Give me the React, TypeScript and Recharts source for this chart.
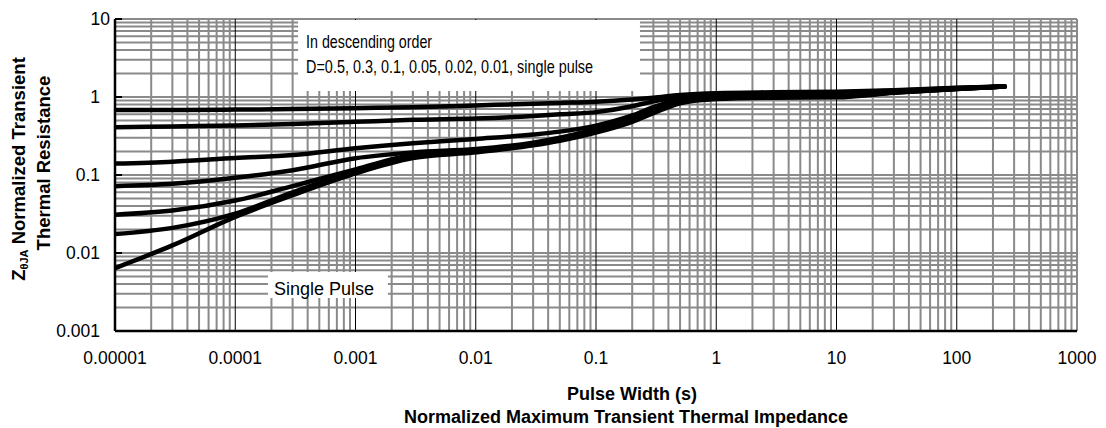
import { CartesianGrid, Label, Line, LineChart, ReferenceArea, XAxis, YAxis } from 'recharts'

const PULSE_WIDTH = [1e-5, 3e-5, 1e-4, 3e-4, 1e-3, 3e-3, 1e-2, 3e-2, 0.05, 0.1, 0.2, 0.3, 0.5, 1, 3, 10, 30, 100, 250]

// normalized Z for each duty cycle, same order as PULSE_WIDTH
const Z_D050 = [0.68, 0.68, 0.69, 0.70, 0.72, 0.74, 0.78, 0.82, 0.84, 0.87, 0.93, 0.98, 1.06, 1.12, 1.15, 1.17, 1.22, 1.31, 1.36]
const Z_D030 = [0.41, 0.42, 0.43, 0.45, 0.48, 0.51, 0.53, 0.57, 0.60, 0.64, 0.76, 0.88, 1.01, 1.09, 1.12, 1.14, 1.20, 1.30, 1.36]
const Z_D010 = [0.14, 0.148, 0.165, 0.18, 0.22, 0.255, 0.29, 0.33, 0.36, 0.43, 0.58, 0.74, 0.92, 1.03, 1.07, 1.09, 1.17, 1.29, 1.36]
const Z_D005 = [0.072, 0.077, 0.092, 0.115, 0.164, 0.195, 0.215, 0.26, 0.30, 0.39, 0.53, 0.68, 0.87, 1.0, 1.04, 1.06, 1.16, 1.28, 1.36]
const Z_D002 = [0.031, 0.035, 0.047, 0.072, 0.118, 0.18, 0.205, 0.25, 0.29, 0.37, 0.51, 0.66, 0.86, 0.98, 1.02, 1.03, 1.15, 1.28, 1.36]
const Z_D001 = [0.0175, 0.021, 0.032, 0.06, 0.11, 0.172, 0.2, 0.245, 0.28, 0.36, 0.49, 0.64, 0.85, 0.96, 1.0, 1.01, 1.14, 1.27, 1.36]
const Z_SINGLE = [0.0064, 0.0125, 0.029, 0.055, 0.105, 0.165, 0.195, 0.24, 0.275, 0.35, 0.48, 0.62, 0.83, 0.94, 0.98, 0.99, 1.13, 1.27, 1.36]

const SERIES = [
  { name: 'D=0.5', z: Z_D050 },
  { name: 'D=0.3', z: Z_D030 },
  { name: 'D=0.1', z: Z_D010 },
  { name: 'D=0.05', z: Z_D005 },
  { name: 'D=0.02', z: Z_D002 },
  { name: 'D=0.01', z: Z_D001 },
  { name: 'single pulse', z: Z_SINGLE },
]

const X_TICKS = [1e-5, 1e-4, 1e-3, 1e-2, 0.1, 1, 10, 100, 1000]
const X_TICK_LABELS = ['0.00001', '0.0001', '0.001', '0.01', '0.1', '1', '10', '100', '1000']
const Y_TICKS = [0.001, 0.01, 0.1, 1, 10]
const Y_TICK_LABELS = ['0.001', '0.01', '0.1', '1', '10']

const X_DECADES = [1e-5, 1e-4, 1e-3, 1e-2, 0.1, 1, 10, 100]
const Y_DECADES = [0.001, 0.01, 0.1, 1]
const MINOR = [2, 3, 4, 5, 6, 7, 8, 9]

const NOTE_LINE_1 = 'In descending order'
const NOTE_LINE_2 = 'D=0.5, 0.3, 0.1, 0.05, 0.02, 0.01, single pulse'
const SINGLE_NOTE = 'Single Pulse'

const FONT = 'Liberation Sans, Arial, sans-serif'
const NARROW = 'Liberation Sans Narrow, Arial Narrow, Liberation Sans, sans-serif'
const GRID_GRAY = '#8a8a8a'

const verticalMinor = X_DECADES.flatMap(d => MINOR.map(m => d * m)).concat([1000])
const verticalMajor = X_DECADES.slice(1)
const horizontalLines = Y_DECADES.flatMap(d => [1, ...MINOR].map(m => d * m))
  .filter(v => v > 0.001)
  .concat([10])

function YTick(props: any) {
  const { x, y, payload } = props
  const idx = Y_TICKS.indexOf(payload.value)
  // the top label sits a little further right in the original
  const dx = payload.value === 10 ? 10 : 0
  return (
    <text x={x + dx} y={y} dy="0.355em" textAnchor="end" fontSize={17.5} fontFamily={FONT} fill="#000">
      {Y_TICK_LABELS[idx] ?? payload.value}
    </text>
  )
}

function YTitle(props: any) {
  const vb = props.viewBox ?? { x: 0, y: 19, width: 115, height: 312 }
  const x1 = vb.x + 25
  const x2 = vb.x + 50
  const cy1 = vb.y + 150
  const cy2 = vb.y + 144
  return (
    <g fontFamily={FONT} fontWeight="bold" fontSize={18.5} fill="#000">
      <text x={x1} y={cy1} textAnchor="middle" transform={`rotate(-90 ${x1} ${cy1})`}>
        Z<tspan fontSize={11} dy={3}>θJA</tspan>
        <tspan dy={-3}> Normalized Transient</tspan>
      </text>
      <text x={x2} y={cy2} textAnchor="middle" transform={`rotate(-90 ${x2} ${cy2})`}>
        Thermal Resistance
      </text>
    </g>
  )
}

function XTitle(props: any) {
  const vb = props.viewBox ?? { x: 115, y: 331, width: 962, height: 97 }
  const cx = vb.x + vb.width / 2
  return (
    <g fontFamily={FONT} fontWeight="bold" fontSize={18} fill="#000">
      <text x={cx + 36} y={vb.y + 69} textAnchor="middle">Pulse Width (s)</text>
      <text x={cx + 30} y={vb.y + 92} textAnchor="middle">Normalized Maximum Transient Thermal Impedance</text>
    </g>
  )
}

function OrderNote(props: any) {
  const vb = props.viewBox
  if (!vb) return null
  return (
    <g fontFamily={NARROW} fontSize={18.5} fill="#000">
      <text x={vb.x + 8} y={vb.y + 28} textLength={126} lengthAdjust="spacingAndGlyphs">{NOTE_LINE_1}</text>
      <text x={vb.x + 8} y={vb.y + 53} textLength={287} lengthAdjust="spacingAndGlyphs">{NOTE_LINE_2}</text>
    </g>
  )
}

function SingleNote(props: any) {
  const vb = props.viewBox
  if (!vb) return null
  return (
    <text x={vb.x + 6} y={vb.y + 23} fontFamily={FONT} fontSize={18} fill="#000">{SINGLE_NOTE}</text>
  )
}

export default function App() {
  return (
    <div style={{ position: 'absolute', left: 0, top: 0, background: '#fff' }}>
      <LineChart width={1106} height={428} margin={{ top: 19, right: 29, bottom: 0, left: 0 }}>
        <CartesianGrid
          stroke={GRID_GRAY}
          strokeWidth={2}
          verticalValues={verticalMinor}
          horizontalValues={horizontalLines}
        />
        <CartesianGrid stroke="#000" strokeWidth={1} horizontal={false} verticalValues={verticalMajor} />
        <XAxis
          dataKey="t"
          type="number"
          scale="log"
          domain={[1e-5, 1000]}
          allowDataOverflow
          ticks={X_TICKS}
          tickFormatter={(v: number) => X_TICK_LABELS[X_TICKS.indexOf(v)] ?? String(v)}
          tick={{ fontSize: 17.5, fontFamily: FONT, fill: '#000' }}
          tickLine={false}
          tickSize={0}
          tickMargin={21}
          axisLine={{ stroke: '#000', strokeWidth: 2.5 }}
          height={97}
          interval={0}
        >
          <Label content={XTitle} />
        </XAxis>
        <YAxis
          dataKey="z"
          type="number"
          scale="log"
          domain={[0.001, 10]}
          allowDataOverflow
          ticks={Y_TICKS}
          tick={YTick}
          tickSize={-7}
          tickMargin={22}
          tickLine={{ stroke: '#000', strokeWidth: 2 }}
          axisLine={{ stroke: '#000', strokeWidth: 2.5 }}
          width={115}
          interval={0}
        >
          <Label content={YTitle} />
        </YAxis>
        <ReferenceArea
          x1={3.33e-4}
          x2={0.232}
          y1={1.19}
          y2={9.7}
          fill="#fff"
          fillOpacity={1}
          stroke="none"
          label={<OrderNote />}
        />
        <ReferenceArea
          x1={1.87e-4}
          x2={1.86e-3}
          y1={0.00265}
          y2={0.0057}
          fill="#fff"
          fillOpacity={1}
          stroke="none"
          label={<SingleNote />}
        />
        {SERIES.map(s => (
          <Line
            key={s.name}
            name={s.name}
            data={PULSE_WIDTH.map((t, i) => ({ t, z: s.z[i] }))}
            dataKey="z"
            type="monotone"
            stroke="#000"
            strokeWidth={4.5}
            strokeLinecap="round"
            dot={false}
            activeDot={false}
            isAnimationActive={false}
          />
        ))}
      </LineChart>
    </div>
  )
}
